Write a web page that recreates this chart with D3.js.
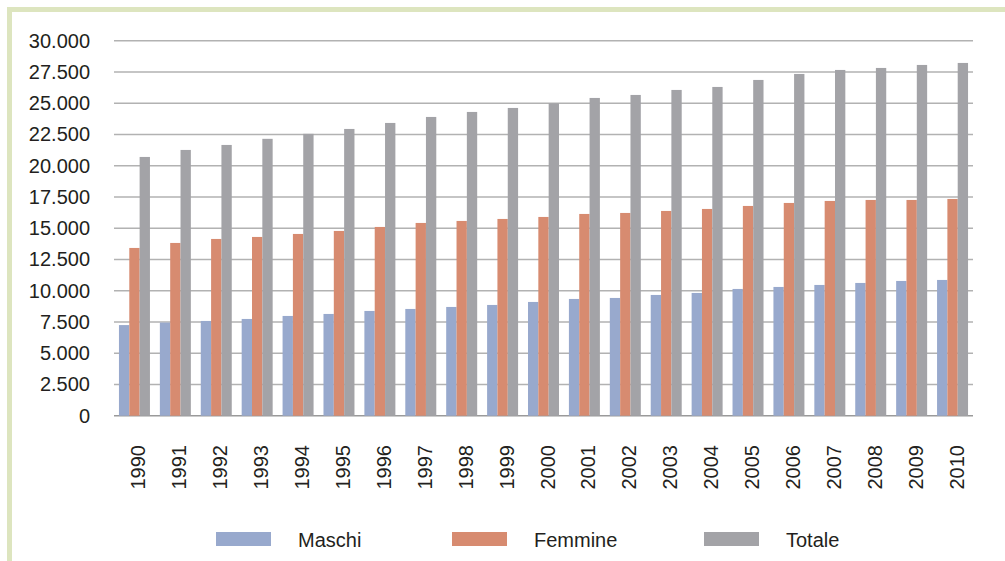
<!DOCTYPE html>
<html>
<head>
<meta charset="utf-8">
<script src="https://cdn.jsdelivr.net/npm/d3@7"></script>
<style>
    body { margin: 0; background: #fff; }
    text { font-family: "Liberation Sans", Arial, sans-serif; fill: #231f20; }
</style>
</head>
<body>
<div id="chart"></div>
<script>
const years = ['1990', '1991', '1992', '1993', '1994', '1995', '1996', '1997', '1998', '1999', '2000',
    '2001', '2002', '2003', '2004', '2005', '2006', '2007', '2008', '2009', '2010'];
const seriesNames = ['Maschi', 'Femmine', 'Totale'];
const maschi = [7250, 7450, 7580, 7740, 7980, 8140, 8380, 8540, 8700, 8860, 9100,
    9340, 9420, 9660, 9820, 10140, 10300, 10460, 10620, 10780, 10860];
const femmine = [13420, 13820, 14140, 14300, 14540, 14780, 15100, 15420, 15580, 15740, 15900,
    16140, 16220, 16380, 16540, 16780, 17020, 17180, 17260, 17260, 17340];
const totale = [20700, 21260, 21660, 22150, 22550, 22940, 23420, 23900, 24300, 24620, 24990,
    25420, 25660, 26060, 26300, 26860, 27340, 27660, 27820, 28060, 28220];
const yTicks = [0, 2500, 5000, 7500, 10000, 12500, 15000, 17500, 20000, 22500, 25000, 27500, 30000];

const colors = ['#98a9cd', '#d78b70', '#a3a3a7'];
const values = [maschi, femmine, totale];

const width = 1005;
const height = 561;

const svg = d3.select('#chart')
    .append('svg')
    .attr('width', width)
    .attr('height', height);

// frame (top + left border)
svg.append('rect')
    .attr('x', 7).attr('y', 7)
    .attr('width', width - 7).attr('height', 5)
    .attr('fill', '#dde5bf');
svg.append('rect')
    .attr('x', 7).attr('y', 7)
    .attr('width', 5).attr('height', height - 7)
    .attr('fill', '#dde5bf');

const x0 = d3.scaleBand()
    .domain(years)
    .range([114, 973])
    .padding(0);

const x1 = d3.scaleBand()
    .domain(seriesNames)
    .range([0, x0.bandwidth()])
    .paddingInner(0)
    .paddingOuter(0.48);

const y = d3.scaleLinear()
    .domain([0, 30000])
    .range([415.7, 40.7]);

const fmt = d3.formatLocale({ decimal: ',', thousands: '.', grouping: [3], currency: ['', ''] }).format(',');

// gridlines
svg.append('g')
    .attr('class', 'grid')
    .selectAll('line')
    .data(yTicks)
    .enter()
    .append('line')
    .attr('x1', 114)
    .attr('x2', 973)
    .attr('y1', d => y(d))
    .attr('y2', d => y(d))
    .attr('stroke', d => d === 0 ? '#9a9a9a' : '#b2b2b2')
    .attr('stroke-width', 1.4);

// y axis labels
svg.append('g')
    .attr('transform', 'translate(90,0)')
    .call(d3.axisLeft(y).tickValues(yTicks).tickSize(0).tickPadding(0).tickFormat(fmt))
    .call(g => g.select('.domain').remove())
    .call(g => g.selectAll('text')
        .attr('font-size', 20)
        .attr('font-family', '"Liberation Sans", Arial, sans-serif')
        .attr('fill', '#231f20'));

// bars
const groups = svg.append('g')
    .selectAll('g')
    .data(years)
    .enter()
    .append('g')
    .attr('transform', d => `translate(${x0(d)},0)`);

groups.selectAll('rect')
    .data((d, i) => seriesNames.map((s, k) => ({ series: s, value: values[k][i], color: colors[k] })))
    .enter()
    .append('rect')
    .attr('x', d => x1(d.series))
    .attr('y', d => y(d.value))
    .attr('width', x1.bandwidth())
    .attr('height', d => y(0) - y(d.value))
    .attr('fill', d => d.color);

// x axis labels (rotated)
svg.append('g')
    .attr('transform', 'translate(0,445)')
    .call(d3.axisBottom(x0).tickSize(0).tickPadding(0))
    .call(g => g.select('.domain').remove())
    .call(g => g.selectAll('text')
        .attr('font-size', 20)
        .attr('font-family', '"Liberation Sans", Arial, sans-serif')
        .attr('fill', '#231f20')
        .attr('text-anchor', 'end')
        .attr('transform', 'translate(4,0) rotate(-90)')
        .attr('x', 0)
        .attr('y', 0)
        .attr('dy', '0.35em'));

// legend
const legendX = [216, 452, 704];
const legend = svg.append('g')
    .selectAll('g')
    .data(seriesNames)
    .enter()
    .append('g')
    .attr('transform', (d, i) => `translate(${legendX[i]},532)`);

legend.append('rect')
    .attr('width', 55)
    .attr('height', 14)
    .attr('fill', (d, i) => colors[i]);

legend.append('text')
    .attr('x', 82)
    .attr('y', 15)
    .attr('font-size', 20)
    .text(d => d);
</script>
</body>
</html>
